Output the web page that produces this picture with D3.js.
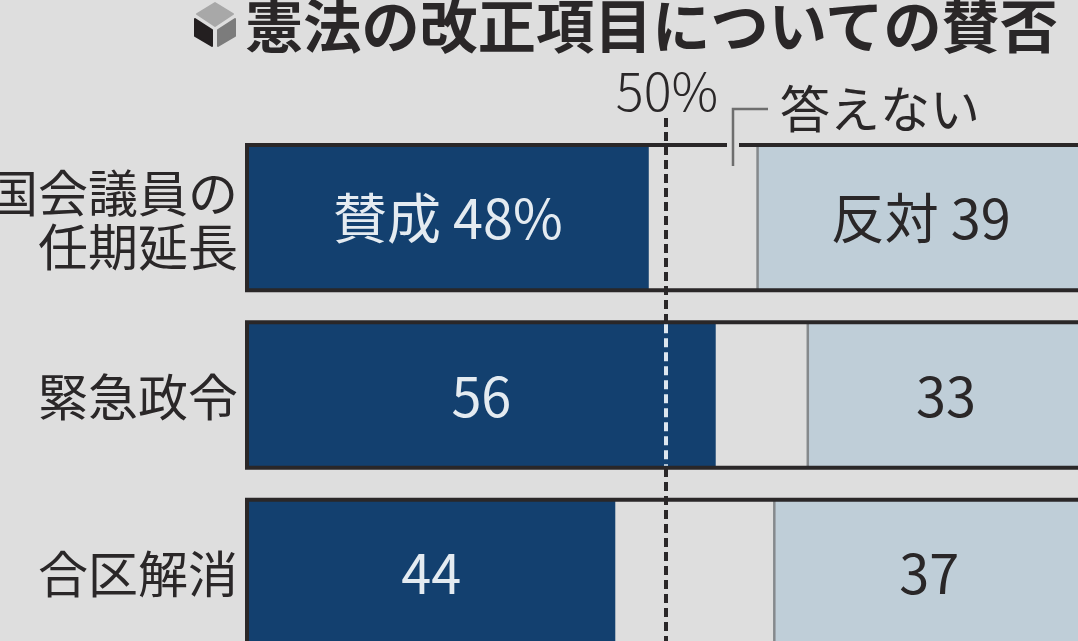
<!DOCTYPE html>
<html lang="ja">
<head>
<meta charset="utf-8">
<title>憲法の改正項目についての賛否</title>
<script src="https://d3js.org/d3.v7.min.js"></script>
<style>
  html, body { margin: 0; padding: 0; background: #dedede; overflow: hidden; }
  svg { display: block; }
  text { font-family: "Noto Sans CJK JP", "Noto Sans", sans-serif; }
</style>
</head>
<body>
<script>
var w = 1078, h = 641;

var titleText = "憲法の改正項目についての賛否";
var categories = ["国会議員の任期延長", "緊急政令", "合区解消"];
var categoryLines = [["国会議員の", "任期延長"], ["緊急政令"], ["合区解消"]];
var approve = [48, 56, 44];
var oppose = [39, 33, 37];
var approveLabels = ["賛成 48%", "56", "44"];
var opposeLabels = ["反対 39", "33", "37"];
var refValue = 50;
var refLabel = "50%";
var noAnswerLabel = "答えない";

var navy = "#13406f", pale = "#bfced8", ink = "#2a2728", bg = "#dedede";

var svg = d3.select("body").append("svg").attr("width", w).attr("height", h);

var x = d3.scaleLinear().domain([0, 100]).range([247, 1084]);
var y = d3.scaleBand().domain(categories).range([145, 645]).paddingInner(32 / 177);

// title + cube icon
svg.append("text")
  .attr("x", 245).attr("y", 48)
  .attr("font-size", 58).attr("font-weight", 700).attr("fill", ink)
  .attr("textLength", 813).attr("lengthAdjust", "spacingAndGlyphs")
  .text(titleText);

var cube = svg.append("g").attr("transform", "translate(215,24)")
  .attr("stroke-width", 2).attr("stroke-linejoin", "round");
cube.append("path").attr("d", "M0,-21L18,-10L0,2L-18,-10Z").attr("fill", "#a8a8a8").attr("stroke", "#a8a8a8");
cube.append("path").attr("d", "M-20,-5L-3,6L-3,22L-20,12Z").attr("fill", "#231f20").attr("stroke", "#231f20");
cube.append("path").attr("d", "M20,-5L3,6L3,22L20,12Z").attr("fill", "#7c7c7c").attr("stroke", "#7c7c7c");

// bars
var rows = svg.selectAll(".row")
  .data(categories)
  .enter().append("g")
  .attr("class", "row")
  .attr("transform", function(d) { return "translate(0," + y(d) + ")"; });

rows.append("rect")
  .attr("x", x(0))
  .attr("width", function(d, i) { return x(approve[i]) - x(0); })
  .attr("height", y.bandwidth())
  .attr("fill", navy);

rows.append("rect")
  .attr("x", function(d, i) { return x(100 - oppose[i]); })
  .attr("width", function(d, i) { return x(100) - x(100 - oppose[i]); })
  .attr("height", y.bandwidth())
  .attr("fill", pale);

rows.append("line")
  .attr("x1", function(d, i) { return x(100 - oppose[i]); })
  .attr("x2", function(d, i) { return x(100 - oppose[i]); })
  .attr("y2", y.bandwidth())
  .attr("stroke", "#85898c").attr("stroke-width", 2.5);

// dark frame: top, bottom and left
rows.append("path")
  .attr("d", "M" + w + ",0H" + x(0) + "V" + y.bandwidth() + "H" + w)
  .attr("fill", "none").attr("stroke", ink).attr("stroke-width", 4);

// bar labels
rows.append("text")
  .attr("x", function(d, i) { return x(approve[i] / 2); })
  .attr("y", y.bandwidth() / 2)
  .attr("dy", "0.4em")
  .attr("text-anchor", "middle").attr("font-size", 54).attr("font-weight", 400)
  .attr("fill", "#e4ebf1")
  .text(function(d, i) { return approveLabels[i]; });

rows.append("text")
  .attr("x", function(d, i) { return x(100 - oppose[i] / 2); })
  .attr("y", y.bandwidth() / 2)
  .attr("dy", "0.4em")
  .attr("text-anchor", "middle").attr("font-size", 54).attr("font-weight", 400)
  .attr("fill", ink)
  .text(function(d, i) { return opposeLabels[i]; });

// category labels
rows.each(function(d, i) {
  var lines = categoryLines[i];
  var lh = 54;
  d3.select(this).selectAll(".cat")
    .data(lines)
    .enter().append("text")
    .attr("class", "cat")
    .attr("x", 238)
    .attr("y", function(l, j) { return y.bandwidth() / 2 + (j - (lines.length - 1) / 2) * lh; })
    .attr("dy", "0.42em")
    .attr("text-anchor", "end").attr("font-size", 50).attr("font-weight", 400)
    .attr("fill", ink)
    .text(function(l) { return l; });
});

// 50% reference line, black on the background and white over navy bars
var refX = 666;
svg.append("line")
  .attr("x1", refX).attr("x2", refX)
  .attr("y1", 118).attr("y2", h)
  .attr("stroke", ink).attr("stroke-width", 4).attr("stroke-dasharray", "9 5");

rows.filter(function(d, i) { return approve[i] > refValue; })
  .append("rect")
  .attr("x", refX - 3).attr("y", 2)
  .attr("width", 6).attr("height", y.bandwidth() - 4)
  .attr("fill", navy);

rows.filter(function(d, i) { return approve[i] > refValue; })
  .append("line")
  .attr("x1", refX).attr("x2", refX)
  .attr("y1", 2).attr("y2", y.bandwidth() - 2)
  .attr("stroke", "#dce6ef").attr("stroke-width", 4).attr("stroke-dasharray", "9 5");

// the row groups come before the long line in the file, so lift them
rows.filter(function(d, i) { return approve[i] > refValue; }).raise();

svg.append("text")
  .attr("x", 667).attr("y", 111)
  .attr("text-anchor", "middle").attr("font-size", 52).attr("font-weight", 300)
  .attr("fill", ink)
  .text(refLabel);

// 答えない leader, the top rule is cut around it
svg.append("rect").attr("x", 727).attr("y", 142).attr("width", 12).attr("height", 7).attr("fill", bg);
svg.append("path")
  .attr("d", "M768,109H733V166")
  .attr("fill", "none").attr("stroke", "#6e6e6e").attr("stroke-width", 2.5);

svg.append("text")
  .attr("x", 780).attr("y", 128)
  .attr("font-size", 50).attr("font-weight", 400).attr("fill", ink)
  .text(noAnswerLabel);
</script>
</body>
</html>
